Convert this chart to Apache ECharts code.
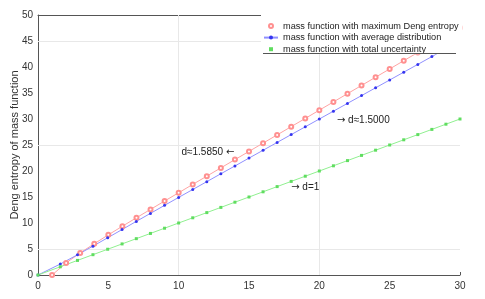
<!DOCTYPE html>
<html><head><meta charset="utf-8">
<script src="https://cdn.jsdelivr.net/npm/echarts@6/dist/echarts.min.js"></script>
<style>html,body{margin:0;padding:0;background:#fff}#c{width:485px;height:299px}</style>
</head><body><div id="c"></div>
<script>
// Series names
var names = ['mass function with maximum Deng entropy','mass function with average distribution','mass function with total uncertainty'];
// Max Deng entropy (red)
var xMax = [1,2,3,4,5,6,7,8,9,10,11,12,13,14,15,16,17,18,19,20,21,22,23,24,25,26,27,28,29,30];
var yMax = [0,2.32,4.25,6.02,7.72,9.38,11.01,12.62,14.23,15.82,17.42,19.01,20.60,22.19,23.77,25.36,26.94,28.53,30.11,31.70,33.28,34.87,36.45,38.04,39.62,41.21,42.79,44.38,45.96,47.55];
// Average distribution (blue)
var xAvg = [0,1.585,2.807,3.907,4.954,5.977,6.989,7.994,8.997,9.999,11,12,13,14,15,16,17,18,19,20,21,22,23,24,25,26,27,28,29,30];
var yAvg = [0,2.11,3.89,5.55,7.16,8.74,10.31,11.85,13.39,14.92,16.44,17.95,19.47,20.97,22.48,23.99,25.49,27.0,28.5,30.0,31.5,33.0,34.5,36.0,37.5,39.0,40.5,42.0,43.5,45.0];
// Total uncertainty (green)
var xTot = [0,1.585,2.807,3.907,4.954,5.977,6.989,7.994,8.997,9.999,11,12,13,14,15,16,17,18,19,20,21,22,23,24,25,26,27,28,29,30];
var yTot = [0,1.585,2.807,3.907,4.954,5.977,6.989,7.994,8.997,9.999,11,12,13,14,15,16,17,18,19,20,21,22,23,24,25,26,27,28,29,30];
// Annotations: text before arrow, arrow, text after arrow
var notes = [
  {pre:'d\u22481.5850 ', arrow:'\u2190', post:'', x:10.2, y:23.6},
  {pre:'', arrow:'\u2192', post:' d\u22481.5000', x:21.25, y:29.8},
  {pre:'', arrow:'\u2192', post:' d=1', x:18.0, y:16.9}
];
var xTicks = {min:0, max:30, interval:5};
var yTicks = {min:0, max:50, interval:5};

function pairs(xs, ys){ return xs.map(function(v,i){return [v, ys[i]];}); }

var font = 'Liberation Sans, Arial, sans-serif';
var chart = echarts.init(document.getElementById('c'));
chart.setOption({
  animation:false,
  textStyle:{fontFamily:font},
  grid:{left:38, right:25, top:15, bottom:24, outerBoundsMode:'none', containLabel:false},
  legend:{
    orient:'vertical', left:261, top:15,
    padding:[6,4,0,2], itemGap:1.6, itemWidth:14, itemHeight:5,
    backgroundColor:'#fff',
    textStyle:{fontSize:9.2, lineHeight:10, color:'#222', fontFamily:font},
    data:[
      {name:names[0], lineStyle:{opacity:0}},
      {name:names[1]},
      {name:names[2], lineStyle:{opacity:0}}
    ]
  },
  graphic:[{type:'line', z:100, shape:{x1:263, y1:53.5, x2:456, y2:53.5}, style:{stroke:'#555', lineWidth:1}}],
  xAxis:[
    {type:'value', min:xTicks.min, max:xTicks.max, interval:xTicks.interval,
     axisLine:{lineStyle:{color:'#555'}}, axisTick:{show:false}, splitLine:{show:false},
     axisLabel:{fontSize:10, color:'#333', margin:6}},
    {type:'value', min:0, max:30, interval:10, position:'bottom', gridIndex:0,
     axisLine:{show:false}, axisTick:{inside:true, length:3, lineStyle:{color:'#555'}},
     axisLabel:{show:false}, splitLine:{show:false}},
    {type:'value', min:0, max:30, interval:10, position:'top', gridIndex:0,
     axisLine:{show:true, lineStyle:{color:'#555'}}, axisTick:{inside:true, length:3, lineStyle:{color:'#555'}},
     axisLabel:{show:false}, splitLine:{show:false}}
  ],
  yAxis:[
    {type:'value', min:yTicks.min, max:yTicks.max, interval:yTicks.interval,
     name:'Deng entropy of mass function', nameLocation:'middle', nameGap:18, nameMoveOverlap:false,
     nameTextStyle:{fontSize:11, color:'#333'},
     axisLine:{show:true, lineStyle:{color:'#555'}}, axisTick:{show:false}, splitLine:{show:false},
     axisLabel:{fontSize:10, color:'#333', margin:5}}
  ],
  series:[
    {name:names[0], type:'line', xAxisIndex:0, data:pairs(xMax,yMax),
     symbol:'emptyCircle', symbolSize:4, showAllSymbol:true,
     lineStyle:{color:'#ffa3a3', width:1}, itemStyle:{color:'#ff9090', borderWidth:1}, z:3},
    {name:names[1], type:'line', xAxisIndex:0, data:pairs(xAvg,yAvg),
     symbol:'circle', symbolSize:3, showAllSymbol:true,
     lineStyle:{color:'#9090ff', width:1}, itemStyle:{color:'#3535f0'}, z:3},
    {name:names[2], type:'line', xAxisIndex:0, data:pairs(xTot,yTot),
     symbol:'rect', symbolSize:3, showAllSymbol:true,
     lineStyle:{color:'#90f090', width:1}, itemStyle:{color:'#60dd60'}, z:3,
     markLine:{silent:true, symbol:'none', label:{show:false}, z:1,
       lineStyle:{color:'#e8e8e8', type:'solid', width:1},
       data:[{xAxis:10},{xAxis:20},{yAxis:5},{yAxis:25},{yAxis:45}]},
     markPoint:{silent:true, symbol:'circle', symbolSize:0,
       label:{show:true, position:'right', distance:0, fontSize:10, color:'#222', fontFamily:font,
         formatter:function(p){var n=notes[p.dataIndex]; return n.pre + '{a|' + n.arrow + '}' + n.post;},
         rich:{a:{fontFamily:'DejaVu Sans', fontSize:10, color:'#222'}}},
       data:notes.map(function(n){return {name:n.pre+n.arrow+n.post, coord:[n.x,n.y]};})}}
  ]
});
</script></body></html>
